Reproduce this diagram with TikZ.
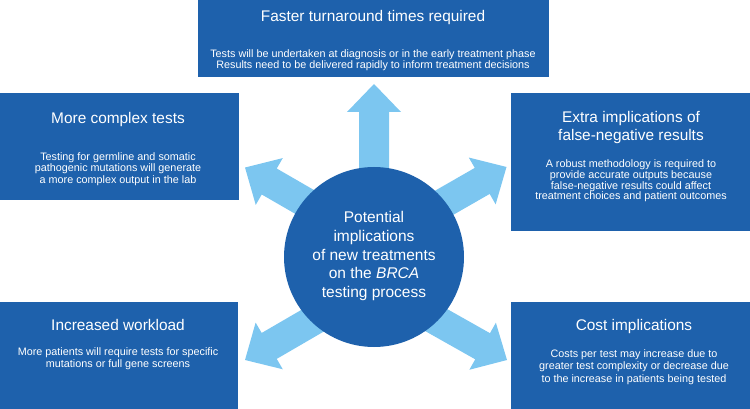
\documentclass[tikz,border=0pt]{standalone}
\usepackage{fontspec}
\setmainfont{Liberation Sans}
\usetikzlibrary{calc}
\definecolor{boxblue}{RGB}{30,97,172}
\definecolor{arrowblue}{RGB}{124,198,240}
\newcommand\blockarrow[2]{%
  \coordinate (ab) at ($(#2)!28pt!(#1)$);
  \fill[arrowblue] (#2) -- ($(ab)!27pt!90:(#2)$) -- ($(ab)!15pt!90:(#2)$)
    -- ($(#1)!15pt!90:(#2)$) -- ($(#1)!15pt!-90:(#2)$)
    -- ($(ab)!15pt!-90:(#2)$) -- ($(ab)!27pt!-90:(#2)$) -- cycle;}
\begin{document}
\begin{tikzpicture}[x=1pt,y=-1pt,
  box/.style={fill=boxblue, draw=none, inner sep=0pt, outer sep=0pt, anchor=north west},
  ttl/.style={text=white, font=\fontsize{15.4}{18}\selectfont, align=center, inner sep=0pt},
  bdy/.style={text=white, font=\fontsize{10.8}{#1}\selectfont, align=center, inner sep=0pt},
  bdy/.default=11.5]
\useasboundingbox (0,0) rectangle (750,409);
% boxes
\node[box, minimum width=351pt, minimum height=77pt] (tbox) at (198,0) {};
\node[box, minimum width=239pt, minimum height=107pt] (ltbox) at (0,93) {};
\node[box, minimum width=239pt, minimum height=138pt] (rtbox) at (511,93) {};
\node[box, minimum width=238pt, minimum height=107pt] (lbbox) at (0,302) {};
\node[box, minimum width=239pt, minimum height=107pt] (rbbox) at (511,302) {};
% arrows
\coordinate (c) at (374,257);
\coordinate (sNW) at (374,242);
\coordinate (sNE) at (374,243);
\coordinate (sSW) at (374,285);
\coordinate (sSE) at (374,285);
\coordinate (tN) at (374,84);
\coordinate (tNW) at (245,167.5);
\coordinate (tNE) at (506.5,167);
\coordinate (tSW) at (245,360);
\coordinate (tSE) at (507,360);
\blockarrow{c}{tN}
\blockarrow{sNW}{tNW}
\blockarrow{sNE}{tNE}
\blockarrow{sSW}{tSW}
\blockarrow{sSE}{tSE}
% hub
\node[circle, fill=boxblue, minimum size=180pt, inner sep=0pt] (hub) at (c) {};
\node[text=white, font=\fontsize{15.5}{18.75}\selectfont, align=center, inner sep=0pt] (hubtxt) at (374,256)
  {Potential\\implications\\of new treatments\\on the \textit{BRCA}\\testing process};
% texts
\node[ttl] (t1) at (373,18) {Faster turnaround times required};
\node[bdy=10.5] (b1) at (373,60) {Tests will be undertaken at diagnosis or in the early treatment phase\\Results need to be delivered rapidly to inform treatment decisions};
\node[ttl] (t2) at (118,120) {More complex tests};
\node[bdy=11.7] (b2) at (118,169) {Testing for germline and somatic\\pathogenic mutations will generate\\a more complex output in the lab};
\node[ttl] (t3) at (631,128) {Extra implications of\\false-negative results};
\node[bdy=10.8] (b3) at (631,181) {A robust methodology is required to\\provide accurate outputs because\\false-negative results could affect\\treatment choices and patient outcomes};
\node[ttl] (t4) at (118,325) {Increased workload};
\node[bdy=12] (b4) at (118,359) {More patients will require tests for specific\\mutations or full gene screens};
\node[ttl] (t5) at (634,327) {Cost implications};
\node[bdy=12.3] (b5) at (634,367) {Costs per test may increase due to\\greater test complexity or decrease due\\to the increase in patients being tested};
\end{tikzpicture}
\end{document}
